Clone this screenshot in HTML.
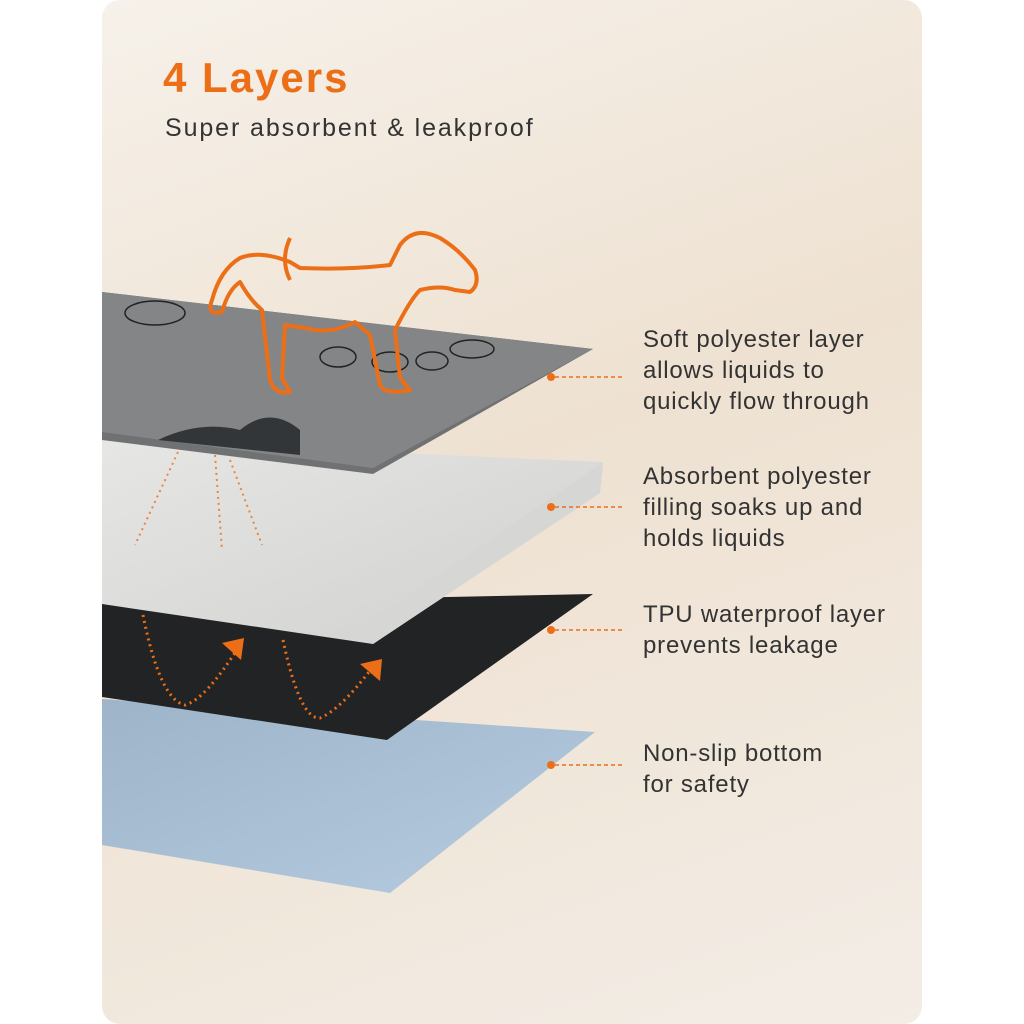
<!DOCTYPE html>
<html><head><meta charset="utf-8"><style>
html,body{margin:0;padding:0;background:#fff;}
body{width:1024px;height:1024px;position:relative;overflow:hidden;font-family:"Liberation Sans",sans-serif;}
.card{position:absolute;left:102px;top:0;width:820px;height:1024px;border-radius:18px;background:linear-gradient(160deg,#f6f1ea 0%,#eee1d1 45%,#f3ede6 100%);overflow:hidden;}
.t{position:absolute;left:643px;font-size:24px;line-height:31px;color:#333;letter-spacing:0.8px;}
</style></head><body>
<div class="card"></div>
<div style="position:absolute;left:163px;top:54px;font-size:42px;font-weight:bold;color:#ec6f17;letter-spacing:2px;">4 Layers</div>
<div style="position:absolute;left:165px;top:114px;font-size:25px;color:#333;letter-spacing:1.9px;">Super absorbent &amp; leakproof</div>
<svg width="1024" height="1024" style="position:absolute;left:0;top:0">
<defs>
<linearGradient id="w" x1="0" y1="0" x2="1" y2="1"><stop offset="0" stop-color="#e6e6e4"/><stop offset="1" stop-color="#d0d0ce"/></linearGradient>
<linearGradient id="b" x1="0" y1="0" x2="1" y2="1"><stop offset="0" stop-color="#9db4c9"/><stop offset="1" stop-color="#b6cbe0"/></linearGradient>
</defs>
<polygon points="102,699 595,732 390,893 102,845" fill="url(#b)"/>
<polygon points="102,604 593,594 387,740 102,697" fill="#222325"/>
<path d="M143,615 Q160,700 185,705 Q205,700 240,645" fill="none" stroke="#ec6f17" stroke-width="3" stroke-dasharray="2 4"/>
<path d="M283,640 Q300,720 320,718 Q340,710 372,668" fill="none" stroke="#ec6f17" stroke-width="3" stroke-dasharray="2 4"/>
<path d="M222,643 l22,-5 l-3,22 z" fill="#ec6f17"/>
<path d="M360,664 l22,-5 l-2,22 z" fill="#ec6f17"/>
<polygon points="102,440 603,462 600,493 373,644 102,604" fill="url(#w)"/>
<polygon points="603,462 600,493 373,644 373,620" fill="#d6d6d4"/>
<path d="M178,452 L135,545 M215,455 L222,550 M230,460 L262,545" stroke="#ec6f17" stroke-width="2" stroke-dasharray="2 4" fill="none" opacity=".8"/>
<polygon points="102,292 593,349 373,474 102,440" fill="#6f7173"/>
<polygon points="102,292 593,349 373,468 102,432" fill="#838587"/>
<path d="M158,440 Q200,420 240,430 Q270,405 300,430 L300,455 Z" fill="#333638"/>
<g fill="none" stroke="#222" stroke-width="1.5">
<ellipse cx="155" cy="313" rx="30" ry="12"/>
<ellipse cx="338" cy="357" rx="18" ry="10"/><ellipse cx="390" cy="362" rx="18" ry="10"/><ellipse cx="432" cy="361" rx="16" ry="9"/><ellipse cx="472" cy="349" rx="22" ry="9"/>
</g>
<path d="M290,262 Q260,250 240,258 Q220,270 212,300 Q206,316 222,312 Q228,290 240,282 Q250,300 262,310 L270,380 Q275,395 290,392 L282,378 L285,325 L305,328 Q330,335 355,322 L370,335 L380,385 Q385,395 410,390 L400,378 L395,330 Q410,300 420,290 Q440,285 455,290 L470,292 Q480,285 475,270 Q460,250 440,238 Q415,225 400,245 L390,265 Q350,270 300,268 Z" fill="none" stroke="#ec6f17" stroke-width="4" stroke-linejoin="round"/>
<path d="M290,238 Q280,260 290,280" fill="none" stroke="#ec6f17" stroke-width="4"/>
<g stroke="#ec6f17" stroke-width="1.5" stroke-dasharray="4 3">
<line x1="555" y1="377" x2="622" y2="377"/><line x1="555" y1="507" x2="622" y2="507"/><line x1="555" y1="630" x2="622" y2="630"/><line x1="555" y1="765" x2="622" y2="765"/>
</g>
<g fill="#ec6f17"><circle cx="551" cy="377" r="4"/><circle cx="551" cy="507" r="4"/><circle cx="551" cy="630" r="4"/><circle cx="551" cy="765" r="4"/></g>
</svg>
<div class="t" style="top:324px">Soft polyester layer<br>allows liquids to<br>quickly flow through</div>
<div class="t" style="top:461px">Absorbent polyester<br>filling soaks up and<br>holds liquids</div>
<div class="t" style="top:599px">TPU waterproof layer<br>prevents leakage</div>
<div class="t" style="top:738px">Non-slip bottom<br>for safety</div>
</body></html>
